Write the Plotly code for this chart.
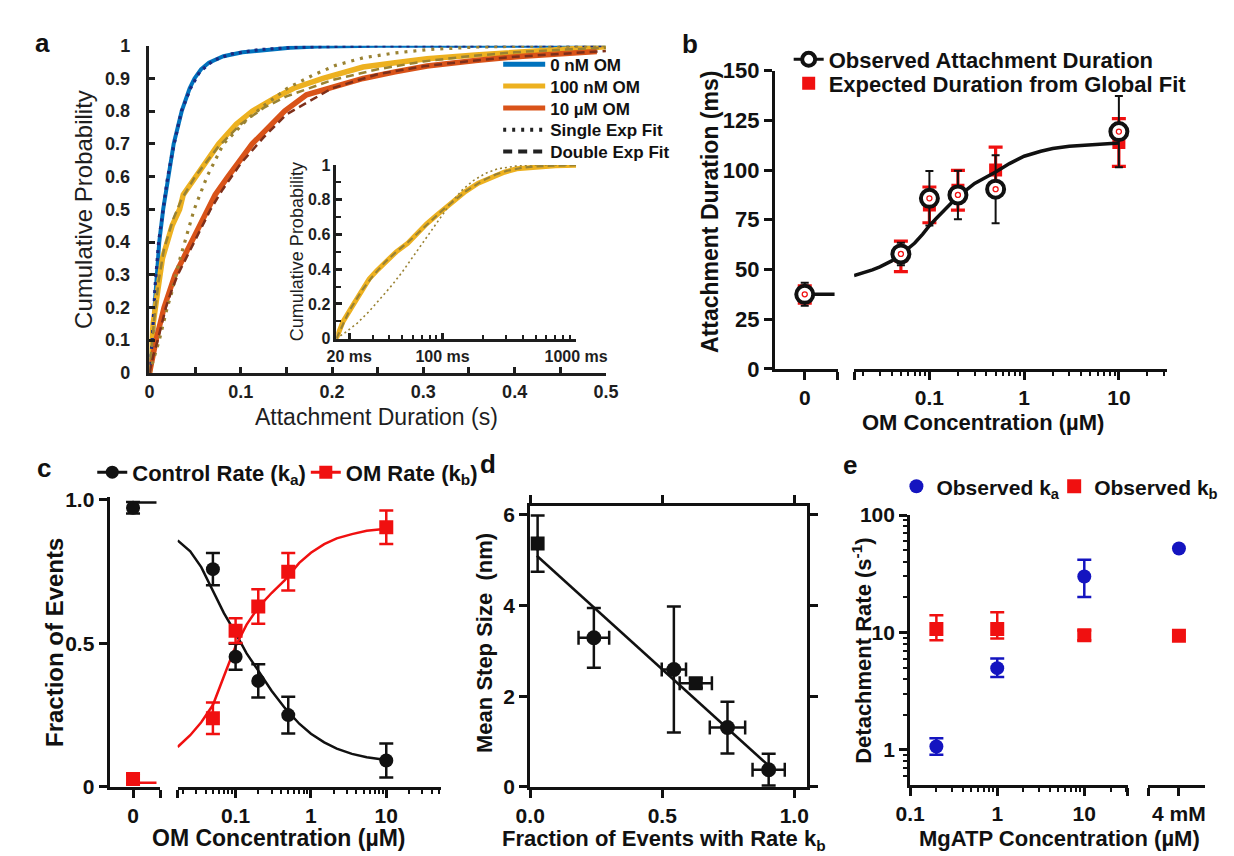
import math
import plotly.graph_objects as go

# ====================== DATA ======================
# ---- Panel a : cumulative probability of attachment durations (x in s)
a_blue_x = [0, 0.002, 0.0037, 0.0055, 0.008, 0.0107, 0.015, 0.0177, 0.0206, 0.0265, 0.0353, 0.044,
            0.0493, 0.0564, 0.065, 0.081, 0.102, 0.127, 0.154, 0.19, 0.25, 0.35, 0.5]
a_blue_y = [0, 0.05, 0.1, 0.2, 0.3, 0.4, 0.5, 0.545, 0.6, 0.7, 0.8, 0.87,
            0.9, 0.928, 0.948, 0.968, 0.98, 0.988, 0.994, 0.998, 1.0, 1.0, 1.0]
a_blue_fit_x = [0, 0.003, 0.006, 0.01, 0.015, 0.02, 0.027, 0.035, 0.045, 0.055, 0.07, 0.09, 0.12,
                0.16, 0.22, 0.3, 0.4, 0.5]
a_blue_fit_y = [0, 0.1, 0.26, 0.4, 0.5, 0.6, 0.7, 0.8, 0.87, 0.92, 0.955, 0.975, 0.988,
                0.995, 0.999, 1.0, 1.0, 1.0]

a_yel_x = [0, 0.0015, 0.004, 0.009, 0.0142, 0.0248, 0.033, 0.037, 0.051, 0.0757, 0.095, 0.1125,
           0.137, 0.158, 0.19, 0.234, 0.269, 0.304, 0.357, 0.409, 0.45, 0.5]
a_yel_y = [0, 0.05, 0.15, 0.25, 0.35, 0.45, 0.5, 0.545, 0.6, 0.7, 0.76, 0.8,
           0.84, 0.87, 0.9, 0.935, 0.948, 0.96, 0.972, 0.982, 0.99, 0.997]
a_yel_dbl_x = [0, 0.002, 0.005, 0.01, 0.016, 0.026, 0.035, 0.05, 0.075, 0.1, 0.125, 0.15, 0.2,
               0.25, 0.3, 0.35, 0.4, 0.45, 0.5]
a_yel_dbl_y = [0, 0.06, 0.16, 0.28, 0.38, 0.47, 0.53, 0.6, 0.69, 0.76, 0.81, 0.845, 0.895,
               0.928, 0.952, 0.968, 0.98, 0.988, 0.994]
a_yel_sgl_x = [0, 0.005, 0.0107, 0.0195, 0.0248, 0.0335, 0.044, 0.049, 0.063, 0.081, 0.109, 0.127,
               0.151, 0.179, 0.204, 0.234, 0.269, 0.304, 0.357, 0.42, 0.5]
a_yel_sgl_y = [0, 0.05, 0.1, 0.2, 0.25, 0.35, 0.45, 0.5, 0.6, 0.7, 0.78, 0.82,
               0.87, 0.91, 0.94, 0.963, 0.978, 0.988, 0.996, 0.999, 1.0]

a_red_x = [0, 0.003, 0.0072, 0.016, 0.0213, 0.028, 0.037, 0.046, 0.0546, 0.064, 0.072, 0.086,
           0.1125, 0.148, 0.172, 0.199, 0.234, 0.269, 0.304, 0.357, 0.409, 0.49]
a_red_y = [0, 0.05, 0.1, 0.2, 0.25, 0.3, 0.35, 0.4, 0.45, 0.5, 0.545, 0.6,
           0.7, 0.8, 0.85, 0.872, 0.9, 0.92, 0.938, 0.955, 0.968, 0.982]
a_red_dbl_x = [0, 0.004, 0.009, 0.018, 0.024, 0.031, 0.04, 0.049, 0.058, 0.067, 0.08, 0.1, 0.125,
               0.15, 0.2, 0.25, 0.3, 0.35, 0.4, 0.45, 0.5]
a_red_dbl_y = [0, 0.05, 0.1, 0.2, 0.25, 0.3, 0.35, 0.4, 0.45, 0.5, 0.56, 0.64, 0.72,
               0.79, 0.87, 0.913, 0.937, 0.953, 0.966, 0.976, 0.984]

# inset (x in ms, log axis)
ins_yel_x = [16, 18, 21.4, 25, 28.2, 32, 37, 45, 54.8, 65, 76, 90, 106, 125, 148, 185, 231, 290,
             359, 500, 700, 1000]
ins_yel_y = [0, 0.1, 0.195, 0.28, 0.344, 0.39, 0.437, 0.5, 0.549, 0.61, 0.661, 0.71, 0.754, 0.8,
             0.847, 0.895, 0.93, 0.958, 0.978, 0.99, 0.995, 0.998]
ins_dbl_x = [16, 20, 25, 30, 37, 45, 55, 65, 80, 100, 125, 150, 200, 250, 300, 400, 500, 700, 1000]
ins_dbl_y = [0, 0.16, 0.28, 0.36, 0.44, 0.5, 0.555, 0.605, 0.67, 0.74, 0.8, 0.85, 0.91, 0.945,
             0.965, 0.985, 0.992, 0.997, 0.999]
ins_sgl_x = [16, 19, 23, 28, 35, 42, 50, 60, 75, 95, 115, 140, 170, 210, 260, 350, 450, 1000]
ins_sgl_y = [0, 0.04, 0.09, 0.155, 0.24, 0.31, 0.385, 0.47, 0.58, 0.69, 0.78, 0.855, 0.91, 0.952,
             0.978, 0.993, 1.0, 1.0]

# ---- Panel b : attachment duration vs OM concentration (µM)
b_conc = [0, 0.05, 0.1, 0.2, 0.5, 10]
b_obs = [37.5, 57.8, 85.8, 87.5, 90.4, 119.4]
b_obs_err = [5.8, 5.7, 13.7, 12.2, 17.1, 17.9]
b_exp = [37.4, 56.6, 82.5, 89.9, 100.0, 113.9]
b_exp_err = [4.3, 7.7, 9.0, 10.0, 11.6, 12.0]
b_fit0_x = [0, 1.0]
b_fit0_y = [37.5, 37.5]
b_fit_x = [0.016, 0.02, 0.025, 0.03, 0.04, 0.05, 0.06, 0.07, 0.085, 0.1, 0.12, 0.15, 0.2, 0.25,
           0.3, 0.4, 0.5, 0.7, 1, 1.5, 2, 3, 5, 7, 10]
b_fit_y = [46.9, 48.2, 49.8, 51.3, 54.3, 57.5, 60.5, 63.3, 67.8, 72.0, 76.0, 80.8, 86.8, 90.3,
           93.3, 96.5, 99.0, 103.3, 107.0, 109.5, 110.9, 112.0, 112.9, 113.4, 113.7]

# ---- Panel c : fraction of events vs OM concentration (µM)
c_conc = [0, 0.05, 0.1, 0.2, 0.5, 10]
c_ka = [0.972, 0.758, 0.453, 0.369, 0.25, 0.092]
c_ka_err = [0.02, 0.056, 0.045, 0.058, 0.064, 0.059]
c_kb = [0.028, 0.239, 0.544, 0.628, 0.749, 0.904]
c_kb_err = [0.015, 0.055, 0.043, 0.06, 0.065, 0.058]
c_fit0_x = [0, 1.0]
c_ka_fit0_y = [0.99, 0.99]
c_kb_fit0_y = [0.0146, 0.0146]
c_fit_x = [0.017, 0.025, 0.035, 0.05, 0.07, 0.1, 0.14, 0.2, 0.3, 0.45, 0.7, 1.0, 1.5, 2.2, 3.5,
           5.5, 10.0]
c_ka_fit_y = [0.858, 0.82, 0.765, 0.68, 0.605, 0.535, 0.465, 0.405, 0.335, 0.275, 0.22, 0.185,
              0.155, 0.133, 0.115, 0.103, 0.094]
c_kb_fit_y = [0.139, 0.18, 0.225, 0.285, 0.385, 0.49, 0.565, 0.625, 0.675, 0.72, 0.78, 0.815,
              0.845, 0.865, 0.88, 0.892, 0.899]

# ---- Panel d : mean step size vs fraction of events with rate kb
d_circ_x = [0.241, 0.544, 0.747, 0.903]
d_circ_y = [3.29, 2.59, 1.31, 0.38]
d_circ_yerr = [0.66, 1.39, 0.57, 0.35]
d_circ_xerr = [0.058, 0.046, 0.067, 0.061]
d_sq_x = [0.028, 0.627]
d_sq_y = [5.37, 2.29]
d_sq_yerr = [0.62, 0.1]
d_sq_xerr = [0.0, 0.061]
d_fit_x = [0.025, 0.897]
d_fit_y = [5.1, 0.5]

# ---- Panel e : detachment rate vs MgATP concentration
e_conc = [0.2, 1, 10]          # µM
e_conc_mM = [4]                # mM
e_ka = [1.07, 4.97, 30.0]
e_ka_up = [0.19, 1.03, 11.7]
e_ka_dn = [0.16, 0.78, 9.9]
e_kb = [10.7, 10.7, 9.5]
e_kb_up = [3.3, 4.2, 0.9]
e_kb_dn = [2.1, 1.8, 0.9]
e_ka_mM = [52.0]
e_kb_mM = [9.4]

# ====================== STYLE / LAYOUT ======================
W, H = 1234, 856
FONT = "Liberation Sans, Arial, Helvetica, sans-serif"
INK = "#111111"
MINK = "#1e1e1e"
BLUE_A, YEL_A, RED_A = "#0072BD", "#EDB120", "#D95319"
NAVY, OLIVE, DKRED = "#1B2A80", "#9A8232", "#7E2F1A"
RED, EBLUE = "#F01010", "#1414C0"


def X(p):
    return p / W


def Y(p):
    return 1 - p / H


def bold(size, color=INK):
    return dict(family=FONT, size=size, color=color, weight="bold")


def prism(**kw):
    d = dict(showgrid=False, zeroline=False, showline=True, linecolor=INK, linewidth=3,
             ticks="outside", ticklen=8, tickwidth=2.5, tickcolor=INK, tickfont=bold(21),
             tickmode="array")
    d.update(kw)
    return d


def minor_log(vals, ln=4):
    return dict(tickmode="array", tickvals=vals, ticks="outside", ticklen=ln, tickwidth=2,
                tickcolor=INK, showgrid=False)


fig = go.Figure()


def line(x, y, xa, ya, color, width, dash="solid"):
    fig.add_trace(go.Scatter(x=x, y=y, xaxis=xa, yaxis=ya, mode="lines", showlegend=False,
                             line=dict(color=color, width=width, dash=dash), hoverinfo="skip"))

# ---------- panel a traces ----------
line(a_blue_x, a_blue_y, "x", "y", BLUE_A, 4)
line(a_yel_x, a_yel_y, "x", "y", YEL_A, 5.5)
line(a_red_x, a_red_y, "x", "y", RED_A, 5.5)
line(a_blue_fit_x, a_blue_fit_y, "x", "y", NAVY, 3.2, "3px,5px")
line(a_yel_sgl_x, a_yel_sgl_y, "x", "y", OLIVE, 3.2, "3px,6px")
line(a_yel_dbl_x, a_yel_dbl_y, "x", "y", OLIVE, 2.5, "8px,5px")
line(a_red_dbl_x, a_red_dbl_y, "x", "y", DKRED, 2.5, "8px,5px")
# inset
line(ins_yel_x, ins_yel_y, "x2", "y2", YEL_A, 5)
line(ins_dbl_x, ins_dbl_y, "x2", "y2", OLIVE, 2.2, "7px,4px")
line(ins_sgl_x, ins_sgl_y, "x2", "y2", OLIVE, 1.6, "2px,3px")

# panel a legend entries (legend-only)
a_leg = [("0 nM OM", BLUE_A, 5, "solid"), ("100 nM OM", YEL_A, 5, "solid"),
         ("10 µM OM", RED_A, 5, "solid"), ("Single Exp Fit", "#222222", 4, "3px,6px"),
         ("Double Exp Fit", "#222222", 4, "9px,6px")]
for i, (nm, col, wd, ds) in enumerate(a_leg):
    fig.add_trace(go.Scatter(x=[None], y=[None], xaxis="x", yaxis="y", mode="lines", name=nm,
                             line=dict(color=col, width=wd, dash=ds),
                             legend="legend" if i == 0 else f"legend{i+1}"))

# ---------- panel b traces ----------
for xa, idx in (("x3", slice(0, 1)), ("x4", slice(1, None))):
    fig.add_trace(go.Scatter(
        x=b_conc[idx], y=b_exp[idx], xaxis=xa, yaxis="y3", mode="markers", showlegend=False,
        marker=dict(symbol="square", size=13, color=RED),
        error_y=dict(type="data", array=b_exp_err[idx], color=RED, thickness=3.2, width=7)))
line(b_fit0_x, b_fit0_y, "x3", "y3", INK, 3.5)
line(b_fit_x, b_fit_y, "x4", "y3", INK, 3.5)
for xa, idx in (("x3", slice(0, 1)), ("x4", slice(1, None))):
    fig.add_trace(go.Scatter(
        x=b_conc[idx], y=b_obs[idx], xaxis=xa, yaxis="y3", mode="markers", showlegend=False,
        marker=dict(symbol="circle", size=17, color="white", line=dict(color=INK, width=4)),
        error_y=dict(type="data", array=b_obs_err[idx], color=INK, thickness=2, width=4)))
    fig.add_trace(go.Scatter(
        x=b_conc[idx], y=b_obs[idx], xaxis=xa, yaxis="y3", mode="markers", showlegend=False,
        marker=dict(symbol="circle-open", size=5, color=RED, line=dict(color=RED, width=1.3))))
fig.add_trace(go.Scatter(x=[None], y=[None], xaxis="x3", yaxis="y3", mode="lines+markers",
                         name="Observed Attachment Duration", legend="legend6",
                         line=dict(color=INK, width=3),
                         marker=dict(symbol="circle", size=13, color="white",
                                     line=dict(color=INK, width=4))))
fig.add_trace(go.Scatter(x=[None], y=[None], xaxis="x3", yaxis="y3", mode="markers",
                         name="Expected Duration from Global Fit", legend="legend7",
                         marker=dict(symbol="square", size=13, color=RED)))

# ---------- panel c traces ----------
line(c_fit0_x, c_ka_fit0_y, "x5", "y5", INK, 2.5)
line(c_fit0_x, c_kb_fit0_y, "x5", "y5", RED, 2.5)
line(c_fit_x, c_ka_fit_y, "x6", "y5", INK, 2.5)
line(c_fit_x, c_kb_fit_y, "x6", "y5", RED, 2.5)
for xa, idx in (("x5", slice(0, 1)), ("x6", slice(1, None))):
    fig.add_trace(go.Scatter(
        x=c_conc[idx], y=c_ka[idx], xaxis=xa, yaxis="y5", mode="markers", showlegend=False,
        marker=dict(symbol="circle", size=14, color=INK),
        error_y=dict(type="data", array=c_ka_err[idx], color=INK, thickness=2.5, width=7)))
    fig.add_trace(go.Scatter(
        x=c_conc[idx], y=c_kb[idx], xaxis=xa, yaxis="y5", mode="markers", showlegend=False,
        marker=dict(symbol="square", size=14, color=RED),
        error_y=dict(type="data", array=c_kb_err[idx], color=RED, thickness=2.5, width=7)))
fig.add_trace(go.Scatter(x=[None], y=[None], xaxis="x5", yaxis="y5", mode="lines+markers",
                         name="Control Rate (k<sub>a</sub>)", legend="legend8",
                         line=dict(color=INK, width=3), marker=dict(symbol="circle", size=13, color=INK)))
fig.add_trace(go.Scatter(x=[None], y=[None], xaxis="x5", yaxis="y5", mode="lines+markers",
                         name="OM Rate (k<sub>b</sub>)", legend="legend9",
                         line=dict(color=RED, width=3), marker=dict(symbol="square", size=13, color=RED)))

# ---------- panel d traces ----------
line(d_fit_x, d_fit_y, "x7", "y7", INK, 2.5)
fig.add_trace(go.Scatter(
    x=d_circ_x, y=d_circ_y, xaxis="x7", yaxis="y7", mode="markers", showlegend=False,
    marker=dict(symbol="circle", size=15, color=INK),
    error_y=dict(type="data", array=d_circ_yerr, color=INK, thickness=2.5, width=7),
    error_x=dict(type="data", array=d_circ_xerr, color=INK, thickness=2.5, width=7)))
fig.add_trace(go.Scatter(
    x=d_sq_x, y=d_sq_y, xaxis="x7", yaxis="y7", mode="markers", showlegend=False,
    marker=dict(symbol="square", size=14, color=INK),
    error_y=dict(type="data", array=d_sq_yerr, color=INK, thickness=2.5, width=7),
    error_x=dict(type="data", array=d_sq_xerr, color=INK, thickness=2.5, width=7)))

# ---------- panel e traces ----------
fig.add_trace(go.Scatter(
    x=e_conc, y=e_kb, xaxis="x8", yaxis="y8", mode="markers", showlegend=False,
    marker=dict(symbol="square", size=14, color=RED),
    error_y=dict(type="data", symmetric=False, array=e_kb_up, arrayminus=e_kb_dn,
                 color=RED, thickness=2.5, width=7)))
fig.add_trace(go.Scatter(
    x=e_conc, y=e_ka, xaxis="x8", yaxis="y8", mode="markers", showlegend=False,
    marker=dict(symbol="circle", size=14, color=EBLUE),
    error_y=dict(type="data", symmetric=False, array=e_ka_up, arrayminus=e_ka_dn,
                 color=EBLUE, thickness=2.5, width=7)))
fig.add_trace(go.Scatter(x=e_conc_mM, y=e_kb_mM, xaxis="x9", yaxis="y8", mode="markers",
                         showlegend=False, marker=dict(symbol="square", size=14, color=RED)))
fig.add_trace(go.Scatter(x=e_conc_mM, y=e_ka_mM, xaxis="x9", yaxis="y8", mode="markers",
                         showlegend=False, marker=dict(symbol="circle", size=14, color=EBLUE)))
fig.add_trace(go.Scatter(x=[None], y=[None], xaxis="x8", yaxis="y8", mode="markers",
                         name="Observed k<sub>a</sub>", legend="legend10",
                         marker=dict(symbol="circle", size=14, color=EBLUE)))
fig.add_trace(go.Scatter(x=[None], y=[None], xaxis="x8", yaxis="y8", mode="markers",
                         name="Observed k<sub>b</sub>", legend="legend11",
                         marker=dict(symbol="square", size=14, color=RED)))

# ====================== AXES ======================
a_xt = [round(0.05 * i, 2) for i in range(11)]
a_xtt = [("0" if v == 0 else f"{v:g}") if i % 2 == 0 else "" for i, v in enumerate(a_xt)]
a_yt = [round(0.1 * i, 1) for i in range(11)]
a_ytt = ["0"] + [f"{v:g}" for v in a_yt[1:-1]] + ["1"]

matlab = dict(showgrid=False, zeroline=False, showline=True, linecolor=MINK, linewidth=2.5,
              ticks="inside", ticklen=6, tickwidth=2.5, tickcolor=MINK, tickmode="array",
              tickfont=bold(18, MINK))

layout = dict(
    width=W, height=H, margin=dict(l=0, r=0, t=0, b=0), paper_bgcolor="white",
    plot_bgcolor="rgba(0,0,0,0)", showlegend=True,
    xaxis=dict(matlab, domain=[X(131.5), X(606)], range=[0, 0.5], anchor="y",
               tickvals=a_xt, ticktext=a_xtt, ticklabelstandoff=1),
    yaxis=dict(matlab, domain=[Y(363.5), Y(26.5)], range=[0, 1], anchor="x",
               tickvals=a_yt, ticktext=a_ytt, ticklabelstandoff=13),
    xaxis2=dict(matlab, type="log", domain=[X(325.7), X(575)], range=[math.log10(16), 3],
                anchor="y2", tickvals=[20, 100, 1000], ticktext=["20 ms", "100 ms", "1000 ms"],
                tickfont=bold(16, MINK), ticklen=6, ticklabelstandoff=1,
                minor=dict(tickmode="array", tickvals=[30, 40, 50, 60, 70, 80, 90, 200, 300, 400,
                                                       500, 600, 700, 800, 900],
                           ticks="inside", ticklen=4, tickwidth=2, tickcolor=MINK)),
    yaxis2=dict(matlab, domain=[Y(328.3), Y(149.3)], range=[0, 1], anchor="x2",
                tickvals=[0, 0.2, 0.4, 0.6, 0.8, 1], ticktext=["0", "0.2", "0.4", "0.6", "0.8", "1"],
                tickfont=bold(16, MINK),
                minor=dict(tickmode="array", tickvals=[0.1, 0.3, 0.5, 0.7, 0.9], ticks="inside",
                           ticklen=5, tickwidth=2, tickcolor=MINK)),
    # panel b
    xaxis3=prism(domain=[X(781.7), X(847.3)], range=[-1, 1.116], anchor="y3",
                 tickvals=[0, 1.11], ticktext=["0", ""], tickfont=bold(21), ticklabelstandoff=0),
    xaxis4=prism(type="log", domain=[X(864), X(1189.3)], range=[-1.795, 1.508], anchor="y3",
                 tickvals=[0.0162, 0.1, 1, 10], ticktext=["", "0.1", "1", "10"], tickfont=bold(21),
                 ticklabelstandoff=0,
                 minor=minor_log([0.02, 0.03, 0.04, 0.05, 0.06, 0.07, 0.08, 0.09, 0.2, 0.3, 0.4,
                                  0.5, 0.6, 0.7, 0.8, 0.9, 2, 3, 4, 5, 6, 7, 8, 9, 20, 30])),
    yaxis3=prism(domain=[Y(359.3), Y(52.3)], range=[0, 150], anchor="x3",
                 tickvals=[0, 25, 50, 75, 100, 125, 150],
                 ticktext=["0", "25", "50", "75", "100", "125", "150"], tickfont=bold(22)),
    # panel c
    xaxis5=prism(domain=[X(90), X(142.7)], range=[-1, 1.161], anchor="y5",
                 tickvals=[0, 1.155], ticktext=["0", ""]),
    xaxis6=prism(type="log", domain=[X(160.7), X(435)], range=[-1.77, 1.732], anchor="y5",
                 tickvals=[0.0171, 0.1, 1, 10], ticktext=["", "0.1", "1", "10"],
                 minor=minor_log([0.02, 0.03, 0.04, 0.05, 0.06, 0.07, 0.08, 0.09, 0.2, 0.3, 0.4,
                                  0.5, 0.6, 0.7, 0.8, 0.9, 2, 3, 4, 5, 6, 7, 8, 9, 20, 30, 40, 50])),
    yaxis5=prism(domain=[Y(790), Y(491.7)], range=[0, 1.008], anchor="x5",
                 tickvals=[0, 0.5, 1.0], ticktext=["0", "0.5", "1.0"]),
    # panel d
    xaxis7=prism(domain=[X(527.3), X(815)], range=[0, 1.048], anchor="y7", mirror="ticks",
                 tickvals=[0, 0.5, 1.0], ticktext=["0.0", "0.5", "1.0"], ticklabelstandoff=0),
    yaxis7=prism(domain=[Y(790), Y(501)], range=[0, 6.19], anchor="x7", mirror="ticks",
                 tickvals=[0, 2, 4, 6], ticktext=["0", "2", "4", "6"]),
    # panel e
    xaxis8=prism(type="log", domain=[X(922.3), X(1148.3)], range=[-1, 1.497], anchor="y8",
                 tickvals=[0.1, 1, 10, 31.3], ticktext=["0.1", "1", "10", ""],
                 minor=minor_log([0.2, 0.3, 0.4, 0.5, 0.6, 0.7, 0.8, 0.9, 2, 3, 4, 5, 6, 7, 8, 9,
                                  20, 30])),
    xaxis9=prism(domain=[X(1170), X(1228.3)], range=[2.912, 4.912], anchor="y8",
                 tickvals=[2.92, 4], ticktext=["", "4 mM"]),
    yaxis8=prism(type="log", domain=[Y(788.3), Y(510)], range=[-0.301, 2], anchor="x8",
                 tickvals=[1, 10, 100], ticktext=["1", "10", "100"],
                 minor=minor_log([0.6, 0.7, 0.8, 0.9, 2, 3, 4, 5, 6, 7, 8, 9,
                                  20, 30, 40, 50, 60, 70, 80, 90])),
)


def leg(xp, yp, size, iw=30):
    return dict(x=X(xp), y=Y(yp), xanchor="left", yanchor="middle", bgcolor="rgba(0,0,0,0)",
                borderwidth=0, font=bold(size), itemwidth=iw, tracegroupgap=0,
                itemclick=False, itemdoubleclick=False)

# panel a legend rows
a_rows = [46, 68.5, 91, 113.5, 136]
for i, yp in enumerate(a_rows):
    key = "legend" if i == 0 else f"legend{i+1}"
    layout[key] = leg(494, yp, 17, 42)
layout["legend6"] = leg(796, 40.7, 22)
layout["legend7"] = leg(796, 65.3, 22)
layout["legend8"] = leg(72, 466, 22)
layout["legend9"] = leg(294, 466, 22)
layout["legend10"] = leg(908, 480.7, 21)
layout["legend11"] = leg(1072, 480.7, 21)

fig.update_layout(**layout)

# ====================== TEXT ======================
def note(text, xp, yp, size, angle=0, weight="bold", color=INK):
    fig.add_annotation(text=text, x=X(xp), y=Y(yp), xref="paper", yref="paper",
                       showarrow=False, textangle=angle, xanchor="center", yanchor="middle",
                       font=dict(family=FONT, size=size, color=color, weight=weight))

for letter, xp, yp in (("a", 20, 24), ("b", 693, 25), ("c", 22, 461), ("d", 483, 457), ("e", 860, 458)):
    note(letter, xp, yp, 26)

note("Attachment Duration (s)", 368, 409, 23, weight="normal", color=MINK)
note("Cumulative Probability", 63, 195, 24, angle=-90, weight="normal", color=MINK)
note("Cumulative Probability", 285, 239, 18, angle=-90, weight="normal", color=MINK)
note("Attachment Duration (ms)", 714, 198, 23, angle=-90)
note("OM Concentration (µM)", 998, 415, 22)
note("Fraction of Events", 33, 641, 24, angle=-90)
note("OM Concentration (µM)", 266, 843, 23)
note("Mean Step Size  (nm)", 480, 642, 22, angle=-90)
note("Fraction of Events with Rate k<sub>b</sub>", 666, 845, 22)
note("Detachment Rate (s<sup>-1</sup>)", 872, 650, 22, angle=-90)
note("MgATP Concentration (µM)", 1078, 843, 22)

fig.write_html("out.html")
